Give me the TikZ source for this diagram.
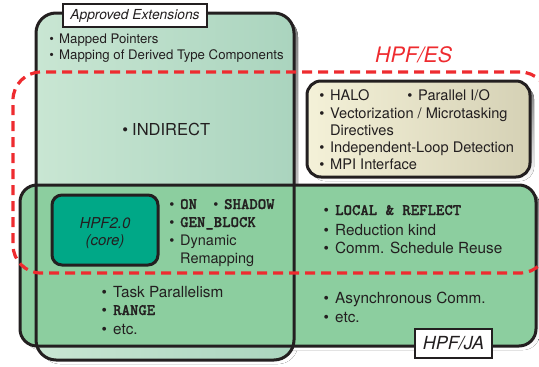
\documentclass[tikz,border=0pt]{standalone}
\usepackage{fontspec}
\setmainfont{TeX Gyre Heros}
\newfontfamily\codefont{lmmonolt10-bold.otf}[FakeBold=1.2]

\definecolor{ink}{HTML}{231F20}
\definecolor{aeleft}{HTML}{C9E6D3}
\definecolor{aeright}{HTML}{AAD4BE}
\definecolor{jafill}{HTML}{8CCE9F}
\definecolor{corefill}{HTML}{00A887}
\definecolor{esred}{HTML}{EE2B2F}
\definecolor{beigeL}{HTML}{F4F1D8}
\definecolor{beigeR}{HTML}{D5D1B5}
\definecolor{shade}{HTML}{8E959E}

\newcommand\bul{\llap{\textbullet\hspace{0.4em}}}
\newcommand\kw[1]{{\codefont\fontsize{16}{18}\selectfont #1}}
\newcommand\fs[1]{\fontsize{#1}{#1}\selectfont}

\begin{document}
\begin{tikzpicture}[x=1pt,y=-1pt,
  frame/.style={rectangle, inner sep=0pt, outer sep=0pt},
  border/.style={draw=ink, line width=3pt},
  tag/.style={rectangle, fill=white, draw=ink, line width=1.8pt, inner sep=0pt, text=ink},
  item/.style={anchor=base west, inner sep=0pt, text=ink},
  apx/.style={item, font=\fs{13.2}},
  bgx/.style={item, font=\fs{14.6}},
  crx/.style={item, font=\fs{14.5}},
  jax/.style={item, font=\fs{15.3}},
]
\useasboundingbox (0,0) rectangle (539,367);

% geometry of the two large regions
\path node[frame, minimum width=258pt, minimum height=347pt] (ae) at (165,186.5) {};
\path node[frame, minimum width=516pt, minimum height=161pt] (ja) at (278,265.5) {};

% drop shadows
\fill[shade, rounded corners=20pt] ([shift={(4,4)}]ae.north west) rectangle ([shift={(4,4)}]ae.south east);
\fill[shade, rounded corners=17pt] ([shift={(4,4)}]ja.north west) rectangle ([shift={(4,4)}]ja.south east);

% fills
\shade[left color=aeleft, right color=aeright, rounded corners=20pt] (ae.north west) rectangle (ae.south east);
\fill[jafill, rounded corners=17pt] (ja.north west) rectangle (ja.south east);

% outlines
\draw[border, rounded corners=20pt] (ae.north west) rectangle (ae.south east);
\draw[border, rounded corners=17pt] (ja.north west) rectangle (ja.south east);

% beige box of HPF/ES extensions
\path node[frame, minimum width=223pt, minimum height=96pt] (es2) at (418.5,129) {};
\fill[shade, rounded corners=14pt] ([shift={(4,4)}]es2.north west) rectangle ([shift={(4,4)}]es2.south east);
\shade[left color=beigeL, right color=beigeR, rounded corners=14pt] (es2.north west) rectangle (es2.south east);
\draw[border, rounded corners=14pt] (es2.north west) rectangle (es2.south east);

% HPF2.0 core box
\node[frame, fill=corefill, border, rounded corners=10pt, minimum width=106pt, minimum height=70pt] (core) at (105,230) {};
\node[anchor=base, inner sep=0pt, text=ink, font=\itshape\fs{15}] (coret) at (105,228) {HPF2.0};
\node[anchor=base, inner sep=0pt, text=ink, font=\itshape\fs{15}] (coreb) at (105,245) {(core)};

% HPF/ES dashed region
\node[frame, draw=esred, line width=3.2pt, dash pattern=on 10pt off 6pt, rounded corners=28pt,
      minimum width=535pt, minimum height=201pt] (es) at (280.5,172.5) {};
\node[anchor=base west, inner sep=0pt, text=esred, font=\itshape\fs{21.3}] (eslabel) at (375,62) {HPF/ES};

% tags
\node[tag, font=\itshape\fs{13.8}, minimum width=144pt, minimum height=23pt] (aetag) at (135,15.5) {Approved Extensions};
\node[tag, font=\itshape\fs{18}, minimum width=77pt, minimum height=29pt] (jatag) at (453.5,343.5) {HPF/JA};

% approved extensions
\node[apx] (a1) at (59,43) {\bul Mapped Pointers};
\node[apx] (a2) at (59,59) {\bul Mapping of Derived Type Components};
\node[item, font=\fs{16.5}] (a3) at (132,135) {\llap{\textbullet\hspace{0.25em}}INDIRECT};

% HPF/ES items
\node[bgx] (b1) at (330,100) {\bul HALO};
\node[bgx] (b2) at (418,100) {\bul Parallel I/O};
\node[bgx] (b3) at (330,118) {\bul Vectorization / Microtasking};
\node[bgx] (b4) at (330,135) {Directives};
\node[bgx] (b5) at (330,152) {\bul Independent-Loop Detection};
\node[bgx] (b6) at (330,169) {\bul MPI Interface};

% items beside the core
\node[crx] (c1) at (180,209) {\bul\kw{ON}};
\node[crx] (c2) at (224,209) {\bul\kw{SHADOW}};
\node[crx] (c3) at (180,227) {\bul\kw{GEN\_BLOCK}};
\node[crx] (c4) at (180,245) {\bul Dynamic};
\node[crx] (c5) at (180,263) {Remapping};

% HPF/JA items
\node[jax] (j1) at (335,215) {\bul\kw{LOCAL \& REFLECT}};
\node[jax] (j2) at (335,235) {\bul Reduction kind};
\node[jax] (j3) at (335,253) {\bul Comm. Schedule Reuse};
\node[jax] (j4) at (335,303) {\bul Asynchronous Comm.};
\node[jax] (j5) at (335,322) {\bul etc.};
\node[jax] (j6) at (113,297) {\bul Task Parallelism};
\node[jax] (j7) at (113,315) {\bul\kw{RANGE}};
\node[jax] (j8) at (113,334) {\bul etc.};
\end{tikzpicture}
\end{document}
